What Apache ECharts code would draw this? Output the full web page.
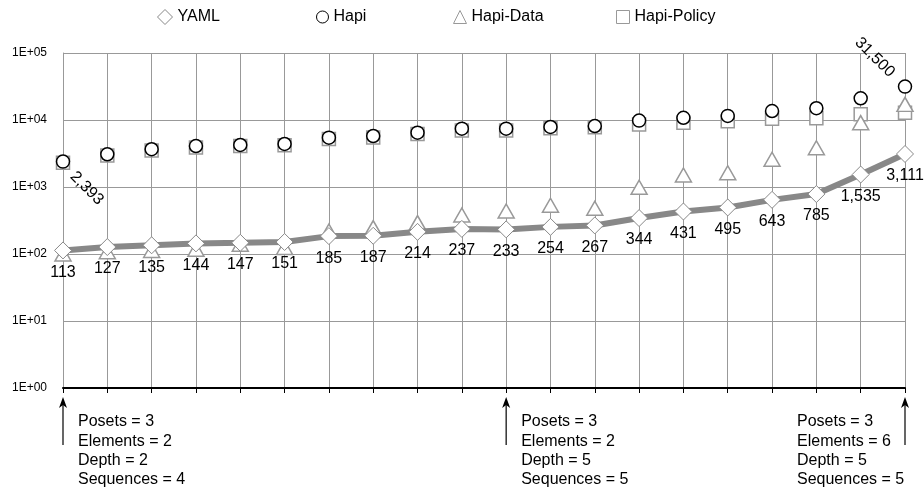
<!DOCTYPE html>
<html>
<head>
<meta charset="utf-8">
<script src="https://cdn.jsdelivr.net/npm/echarts@6/dist/echarts.min.js"></script>
<style>html,body{margin:0;padding:0;background:#fff}#c{width:924px;height:490px}</style>
</head>
<body>
<div id="c"></div>
<script>
// ---- data ----
var categories = ['1','2','3','4','5','6','7','8','9','10','11','12','13','14','15','16','17','18','19','20'];
var yaml       = [113,127,135,144,147,151,185,187,214,237,233,254,267,344,431,495,643,785,1535,3111];
var hapi       = [2393,3080,3660,4090,4240,4390,5450,5770,6470,7420,7420,7870,8130,9800,10800,11500,13600,15000,21100,31500];
var hapiData   = [100,108,113,118,140,125,220,248,294,382,439,533,481,990,1510,1630,2590,3860,9120,17100];
var hapiPolicy = [2300,2950,3500,3900,4100,4200,5200,5500,6200,7000,7000,7500,7800,8600,9100,9600,10400,10600,12200,12800];
var yTickLabels = ['1E+00','1E+01','1E+02','1E+03','1E+04','1E+05'];
var seriesNames = ['YAML','Hapi','Hapi-Data','Hapi-Policy'];
var annotIndex = [0, 10, 19];
var annotLines = [
  ['Posets = 3','Elements = 2','Depth = 2','Sequences = 4'],
  ['Posets = 3','Elements = 2','Depth = 5','Sequences = 5'],
  ['Posets = 3','Elements = 6','Depth = 5','Sequences = 5']
];

var FONT = '"Liberation Sans", Arial, Helvetica, sans-serif';
var chart = echarts.init(document.getElementById('c'), null, {renderer:'canvas'});

function fmtNum(v){ return v.toLocaleString('en-US'); }

var yamlData = yaml.map(function(v){ return {value:v}; });
var hapiItems = hapi.map(function(v, i){
  var item = {value:v};
  if (i === 0) {
    item.label = {show:true, position:[31, 34], rotate:-45, align:'center', verticalAlign:'middle'};
  } else if (i === hapi.length - 1) {
    item.label = {show:true, position:[-23, -22], rotate:-45, align:'center', verticalAlign:'middle'};
  }
  return item;
});

var legendIcons = ['diamond','circle','triangle','rect'];
var legendBorders = ['#888','#000','#999','#999'];
var legendLefts = [152, 311, 448, 611];
var legendSizes = [15, 12, 13, 13];
var legends = seriesNames.map(function(n, i){
  return {
    top:4, left:legendLefts[i], itemWidth:legendSizes[i], itemHeight:legendSizes[i], itemGap:10,
    textStyle:{fontSize:16, color:'#000', fontFamily:FONT},
    data:[{name:n, icon:legendIcons[i], itemStyle:{color:'#fff', borderColor:legendBorders[i], borderWidth:1}}]
  };
});

var option = {
  animation:false,
  backgroundColor:'#fff',
  textStyle:{fontFamily:FONT},
  legend:legends,
  grid:{left:63, right:19, top:53, bottom:102, containLabel:false},
  xAxis:{
    type:'category', data:categories, boundaryGap:false,
    axisLine:{lineStyle:{color:'#000', width:2}},
    axisTick:{show:true, alignWithLabel:true, length:5, lineStyle:{color:'#000'}},
    axisLabel:{show:false},
    splitLine:{show:true, lineStyle:{color:'#999', width:1}}
  },
  yAxis:{
    type:'log', logBase:10, min:1, max:100000,
    axisLine:{show:true, lineStyle:{color:'#999'}},
    axisTick:{show:false},
    axisLabel:{fontSize:12, color:'#000', margin:16, fontFamily:FONT,
      formatter:function(v){ var e = Math.round(Math.log10(v)); return yTickLabels[e]; }},
    splitLine:{show:true, lineStyle:{color:'#999', width:1}}
  },
  series:[
    {
      name:'Hapi-Policy', type:'line', data:hapiPolicy, z:2,
      symbol:'rect', symbolSize:13, lineStyle:{width:0, opacity:0},
      itemStyle:{color:'#fff', borderColor:'#999', borderWidth:1.5}
    },
    {
      name:'Hapi-Data', type:'line', data:hapiData, z:3,
      symbol:'triangle', symbolSize:[16,14], lineStyle:{width:0, opacity:0},
      itemStyle:{color:'#fff', borderColor:'#999', borderWidth:1.5}
    },
    {
      name:'Hapi', type:'line', data:hapiItems, z:4,
      symbol:'circle', symbolSize:13, lineStyle:{width:0, opacity:0},
      itemStyle:{color:'#fff', borderColor:'#000', borderWidth:1.5},
      label:{show:false, fontSize:16, color:'#000', fontFamily:FONT,
        formatter:function(p){ return fmtNum(p.value); }}
    },
    {
      name:'YAML', type:'line', data:yamlData, z:5,
      symbol:'diamond', symbolSize:17, showAllSymbol:true,
      lineStyle:{color:'#888', width:6},
      itemStyle:{color:'#fff', borderColor:'#888', borderWidth:1},
      label:{show:true, position:'bottom', distance:5, fontSize:16, color:'#000', fontFamily:FONT,
        formatter:function(p){ return fmtNum(p.value); }}
    }
  ]
};
chart.setOption(option);

// annotations positioned via axis scale
var yAxisBottom = chart.convertToPixel({yAxisIndex:0}, 1);
var graphics = [];
annotIndex.forEach(function(idx, k){
  var x = chart.convertToPixel({xAxisIndex:0}, idx);
  var tipY = yAxisBottom + 9, baseY = yAxisBottom + 57;
  var last = (k === annotIndex.length - 1);
  graphics.push({type:'line', shape:{x1:x, y1:tipY+4, x2:x, y2:baseY}, style:{stroke:'#000', lineWidth:1.2}});
  graphics.push({type:'polygon', shape:{points:[[x, tipY],[x-4, tipY+11],[x, tipY+8],[x+4, tipY+11]]}, style:{fill:'#000'}});
  annotLines[k].forEach(function(t, j){
    graphics.push({type:'text', x: last ? x - 108 : x + 15, y: yAxisBottom + 34 + j*19.3,
      style:{text:t, fill:'#000', font:'16px ' + FONT, textAlign:'left', textVerticalAlign:'middle'}});
  });
});
chart.setOption({graphic:graphics});
</script>
</body>
</html>
